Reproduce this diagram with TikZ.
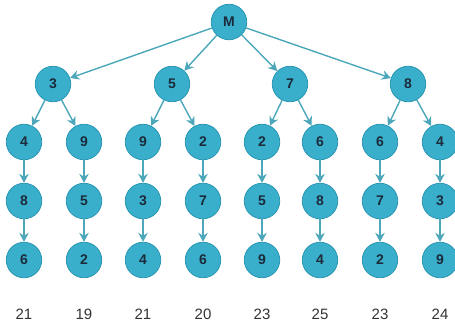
\documentclass[tikz,border=0pt]{standalone}
\usepackage{fontspec}
\setmainfont{Liberation Sans}
\usetikzlibrary{arrows.meta}
\definecolor{nodefill}{HTML}{3AAFCB}
\definecolor{nodeedge}{HTML}{2B97B3}
\definecolor{arrowcol}{HTML}{4BA7B9}
\definecolor{txt}{HTML}{1B2B3B}
\definecolor{sumcol}{HTML}{333333}
\tikzset{
  nd/.style={circle, fill=nodefill, draw=nodeedge, line width=0.8pt, minimum size=35.5pt, inner sep=0pt, font=\fontsize{14}{14}\selectfont\bfseries, text=txt},
  arr/.style={draw=arrowcol, line width=1.4pt, -{Stealth[length=9pt,width=9.5pt]}},
  sumlbl/.style={font=\fontsize{15}{15}\selectfont, text=sumcol}
}
\begin{document}
\begin{tikzpicture}[x=1pt,y=-1pt]
\useasboundingbox (0,0) rectangle (455,327);
\node[nd] (M) at (229,22) {M};
\node[nd] (a) at (53,84) {3};
\node[nd] (b) at (172,84) {5};
\node[nd] (c) at (290,84) {7};
\node[nd] (d) at (408,84) {8};
% level 2
\foreach \n/\x/\t in {a1/24/4, a2/84/9, b1/143/9, b2/203/2, c1/262/2, c2/320/6, d1/380/6, d2/440/4}
  \node[nd] (\n) at (\x,142) {\t};
\foreach \n/\x/\t in {a1/24/8, a2/84/5, b1/143/3, b2/203/7, c1/262/5, c2/320/8, d1/380/7, d2/440/3}
  \node[nd] (\n3) at (\x,201) {\t};
\foreach \n/\x/\t in {a1/24/6, a2/84/2, b1/143/4, b2/203/6, c1/262/9, c2/320/4, d1/380/2, d2/440/9}
  \node[nd] (\n4) at (\x,260) {\t};
\foreach \n/\x/\t in {a1/24/21, a2/84/19, b1/143/21, b2/203/20, c1/262/23, c2/320/25, d1/380/23, d2/440/24}
  \node[sumlbl] (\n s) at (\x,314) {\t};
\foreach \c in {a,b,c,d}
  \draw[arr] (M) -- (\c);
\foreach \p in {a,b,c,d}{
  \draw[arr] (\p) -- (\p1);
  \draw[arr] (\p) -- (\p2);
}
\foreach \n in {a1,a2,b1,b2,c1,c2,d1,d2}{
  \draw[arr] (\n) -- (\n3);
  \draw[arr] (\n3) -- (\n4);
}
\end{tikzpicture}
\end{document}
